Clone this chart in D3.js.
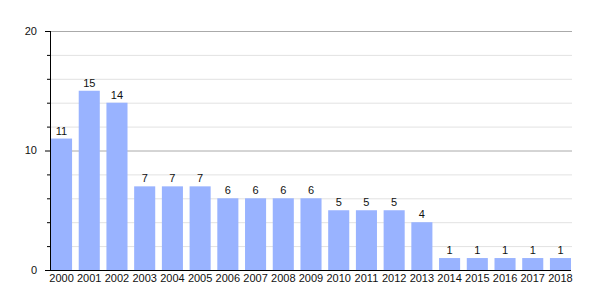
<!DOCTYPE html>
<html>
<head>
<meta charset="utf-8">
<script src="https://cdn.jsdelivr.net/npm/d3@7.9.0/dist/d3.min.js"></script>
<style>
  body { margin: 0; background: #fff; }
  text { font-family: "Liberation Sans", Arial, sans-serif; font-size: 11px; fill: #111; }
</style>
</head>
<body>
<div id="vis"></div>
<script>
const width = 600, height = 300;

const years = ["2000","2001","2002","2003","2004","2005","2006","2007","2008","2009",
               "2010","2011","2012","2013","2014","2015","2016","2017","2018"];
const counts = [11, 15, 14, 7, 7, 7, 6, 6, 6, 6, 5, 5, 5, 4, 1, 1, 1, 1, 1];
const majorTicks = [0, 10, 20];
const minorTicks = [2, 4, 6, 8, 12, 14, 16, 18];

const svg = d3.select("#vis").append("svg")
    .attr("width", width)
    .attr("height", height);

const x = d3.scaleBand()
    .domain(years)
    .range([51, 571])
    .paddingInner(0.24)
    .paddingOuter(0);

const y = d3.scaleLinear()
    .domain([0, 20])
    .range([270, 31]);

const left = 50, right = 572;

// minor grid
svg.append("g")
  .selectAll("line")
  .data(minorTicks)
  .enter().append("line")
    .attr("x1", left).attr("x2", right)
    .attr("y1", d => y(d) + 0.5).attr("y2", d => y(d) + 0.5)
    .attr("stroke", "#e2e2e2");

// major grid
svg.append("g")
  .selectAll("line")
  .data(majorTicks.filter(d => d > 0))
  .enter().append("line")
    .attr("x1", left).attr("x2", right)
    .attr("y1", d => y(d) + 0.5).attr("y2", d => y(d) + 0.5)
    .attr("stroke", "#aaaaaa");

// bars
svg.append("g")
  .selectAll("rect")
  .data(counts)
  .enter().append("rect")
    .attr("x", (d, i) => x(years[i]))
    .attr("y", d => y(d))
    .attr("width", x.bandwidth())
    .attr("height", d => y(0) - y(d))
    .attr("fill", "#99b3ff");

// value labels
svg.append("g")
  .selectAll("text")
  .data(counts)
  .enter().append("text")
    .attr("x", (d, i) => x(years[i]) + x.bandwidth() / 2)
    .attr("y", d => y(d) - 4)
    .attr("text-anchor", "middle")
    .text(d => d);

// y axis
const yAxis = svg.append("g");
yAxis.append("line")
    .attr("x1", left + 0.5).attr("x2", left + 0.5)
    .attr("y1", y(20)).attr("y2", y(0))
    .attr("stroke", "#000");
yAxis.selectAll(".minor")
  .data(minorTicks)
  .enter().append("line")
    .attr("x1", left - 3).attr("x2", left)
    .attr("y1", d => y(d) + 0.5).attr("y2", d => y(d) + 0.5)
    .attr("stroke", "#000");
yAxis.selectAll(".major")
  .data(majorTicks)
  .enter().append("line")
    .attr("x1", left - 5).attr("x2", left)
    .attr("y1", d => y(d) + 0.5).attr("y2", d => y(d) + 0.5)
    .attr("stroke", "#000");
yAxis.selectAll("text")
  .data(majorTicks)
  .enter().append("text")
    .attr("x", 37)
    .attr("y", d => y(d))
    .attr("dy", "0.35em")
    .attr("text-anchor", "end")
    .text(d => d);

// x axis
svg.append("line")
    .attr("x1", left).attr("x2", 571)
    .attr("y1", y(0) + 0.5).attr("y2", y(0) + 0.5)
    .attr("stroke", "#000");
svg.append("g")
  .selectAll("text")
  .data(years)
  .enter().append("text")
    .attr("x", d => x(d) + x.bandwidth() / 2)
    .attr("y", 282)
    .attr("text-anchor", "middle")
    .text(d => d);
</script>
</body>
</html>
